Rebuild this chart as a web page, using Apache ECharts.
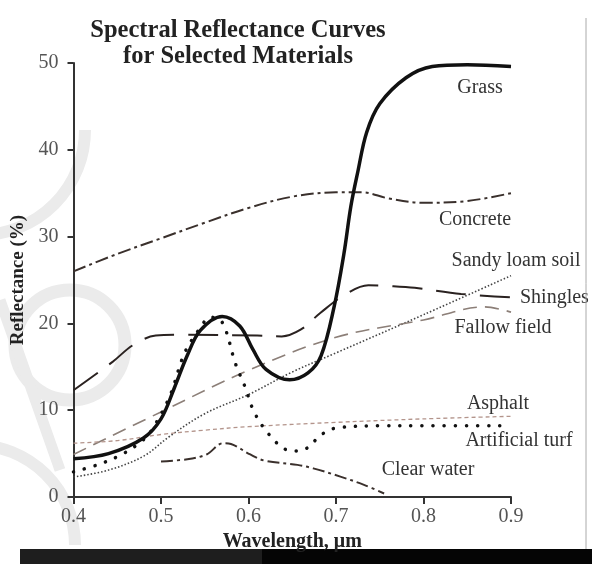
<!DOCTYPE html>
<html>
<head>
<meta charset="utf-8">
<script src="https://cdn.jsdelivr.net/npm/echarts@6/dist/echarts.min.js"></script>
<style>
  html, body { margin: 0; padding: 0; background: #fff; }
  #chart { width: 592px; height: 564px; }
</style>
</head>
<body>
<div id="chart"></div>
<script>
// wavelength (um), reflectance (%) pairs
const grass = [[0.40, 4.4], [0.44, 5.0], [0.48, 6.8], [0.50, 9.0], [0.515, 12.5], [0.53, 16.3],
  [0.545, 19.2], [0.57, 20.8], [0.59, 19.7], [0.605, 17.0], [0.62, 14.7], [0.647, 13.5],
  [0.668, 14.3], [0.683, 16.3], [0.698, 22.0], [0.709, 28.0], [0.717, 33.5], [0.725, 37.5],
  [0.735, 42.0], [0.75, 45.3], [0.78, 48.3], [0.81, 49.6], [0.85, 49.8], [0.90, 49.6]]
const concrete = [[0.40, 26.0], [0.45, 28.0], [0.50, 29.8], [0.55, 31.6], [0.60, 33.3], [0.65, 34.6],
  [0.70, 35.1], [0.73, 35.1], [0.76, 34.4], [0.80, 33.9], [0.85, 34.1], [0.90, 35.0]]
const sandyLoam = [[0.40, 2.3], [0.44, 3.1], [0.48, 4.7], [0.51, 7.0], [0.55, 9.6], [0.60, 11.8],
  [0.65, 14.4], [0.70, 16.6], [0.80, 21.0], [0.90, 25.5]]
const shingles = [[0.40, 12.3], [0.445, 15.6], [0.468, 17.5], [0.494, 18.6], [0.52, 18.7], [0.61, 18.6],
  [0.638, 18.5], [0.66, 19.3], [0.682, 21.2], [0.71, 23.3], [0.737, 24.4], [0.763, 24.3],
  [0.79, 24.1], [0.843, 23.4], [0.90, 23.0]]
const fallowField = [[0.40, 4.9], [0.50, 9.8], [0.60, 14.6], [0.70, 18.4], [0.80, 20.4], [0.87, 21.9], [0.90, 21.3]]
const asphalt = [[0.40, 6.2], [0.45, 6.5], [0.50, 7.2], [0.55, 7.7], [0.60, 8.1], [0.70, 8.6], [0.80, 9.0], [0.90, 9.3]]
const artificialTurf = [[0.40, 2.9], [0.43, 3.8], [0.457, 5.0], [0.48, 6.6], [0.49, 7.8], [0.51, 11.6],
  [0.527, 16.6], [0.545, 19.5], [0.556, 20.7], [0.565, 20.6], [0.573, 19.5], [0.585, 15.4],
  [0.596, 12.7], [0.606, 9.9], [0.621, 7.5], [0.642, 5.5], [0.655, 5.3], [0.668, 5.7],
  [0.679, 6.8], [0.69, 7.6], [0.703, 8.0], [0.75, 8.2], [0.80, 8.2], [0.89, 8.2]]
const clearWater = [[0.50, 4.1], [0.53, 4.35], [0.552, 4.9], [0.571, 6.2], [0.58, 6.1], [0.602, 4.9],
  [0.618, 4.2], [0.656, 3.7], [0.674, 3.3], [0.705, 2.35], [0.732, 1.4], [0.755, 0.4]]

// curve captions and where they sit
const captions = [
  { text: 'Grass', x: 480, y: 88, align: 'center' },
  { text: 'Concrete', x: 475, y: 220, align: 'center' },
  { text: 'Sandy loam soil', x: 516, y: 261, align: 'center' },
  { text: 'Shingles', x: 520, y: 298, align: 'left' },
  { text: 'Fallow field', x: 503, y: 328, align: 'center' },
  { text: 'Asphalt', x: 498, y: 404, align: 'center' },
  { text: 'Artificial turf', x: 519, y: 441, align: 'center' },
  { text: 'Clear water', x: 428, y: 470, align: 'center' }
]

const serif = '"Liberation Serif", "DejaVu Serif", serif'
const web = '#ebebeb'

function line(name, data, color, width, type, z, extra) {
  return Object.assign({
    name: name,
    type: 'line',
    data: data,
    showSymbol: false,
    smooth: 0.35,
    z: z,
    lineStyle: { color: color, width: width, type: type }
  }, extra || {})
}

const chart = echarts.init(document.getElementById('chart'))
chart.setOption({
  animation: false,
  backgroundColor: '#fff',
  title: {
    text: 'Spectral Reflectance Curves\nfor Selected Materials',
    left: 238,
    top: 18,
    padding: 0,
    textAlign: 'center',
    textStyle: {
      fontFamily: serif,
      fontWeight: 'bold',
      fontSize: 24.5,
      lineHeight: 26,
      color: '#222'
    }
  },
  grid: { left: 73.5, right: 81, top: 63, bottom: 67 },
  xAxis: {
    type: 'value',
    min: 0.4,
    max: 0.9,
    interval: 0.1,
    name: 'Wavelength, \u03bcm',
    nameLocation: 'middle',
    nameGap: 33,
    nameTextStyle: { fontFamily: serif, fontWeight: 'bold', fontSize: 20, color: '#222' },
    axisLine: { lineStyle: { color: '#333', width: 2 } },
    axisTick: { length: 7, lineStyle: { color: '#333', width: 2 } },
    axisLabel: {
      margin: 10,
      fontFamily: serif,
      fontSize: 20,
      color: '#555',
      formatter: v => v.toFixed(1)
    },
    splitLine: { show: false }
  },
  yAxis: {
    type: 'value',
    min: 0,
    max: 50,
    interval: 10,
    name: 'Reflectance (%)',
    nameLocation: 'middle',
    nameGap: 46,
    nameTextStyle: { fontFamily: serif, fontWeight: 'bold', fontSize: 19, color: '#222' },
    axisLine: { show: true, lineStyle: { color: '#333', width: 2 } },
    axisTick: { show: true, length: 6, lineStyle: { color: '#333', width: 2 } },
    axisLabel: { margin: 15, fontFamily: serif, fontSize: 20, color: '#555' },
    splitLine: { show: false }
  },
  series: [
    line('Concrete', concrete, '#3a302c', 2, [13, 4, 3, 4], 3),
    line('Sandy loam soil', sandyLoam, '#444', 1.6, [1.5, 2], 3),
    line('Shingles', shingles, '#2a2220', 2, [30, 14], 3),
    line('Fallow field', fallowField, '#8c7f78', 1.6, [14, 8], 3),
    line('Asphalt', asphalt, '#b3948b', 1.3, [4, 3], 3),
    line('Artificial turf', artificialTurf, '#111', 3.5, [0.1, 11], 4,
      { lineStyle: { color: '#111', width: 3.5, type: [0.1, 11], cap: 'round' } }),
    line('Clear water', clearWater, '#3a302c', 2, [12, 4, 3, 4], 3),
    line('Grass', grass, '#111', 3.5, 'solid', 5)
  ],
  graphic: [
    // faint web watermark behind the left of the plot
    { type: 'arc', z: -10, shape: { cx: -20, cy: 130, r: 105, startAngle: 0, endAngle: Math.PI / 2 },
      style: { stroke: web, lineWidth: 12, fill: null } },
    { type: 'circle', z: -10, shape: { cx: 70, cy: 345, r: 55 },
      style: { stroke: web, lineWidth: 13, fill: null } },
    { type: 'arc', z: -10, shape: { cx: -25, cy: 545, r: 100, startAngle: -Math.PI / 2, endAngle: 0 },
      style: { stroke: web, lineWidth: 12, fill: null } },
    { type: 'line', z: -10, shape: { x1: 0, y1: 300, x2: 60, y2: 470 },
      style: { stroke: web, lineWidth: 11 } }
  ].concat(captions.map(c => ({
    type: 'text',
    x: c.x,
    y: c.y,
    style: {
      text: c.text,
      font: '20px ' + serif,
      fill: '#333',
      align: c.align,
      verticalAlign: 'middle'
    }
  }))).concat([
    { type: 'line', shape: { x1: 586, y1: 18, x2: 586, y2: 549 }, style: { stroke: '#aaa', lineWidth: 1 } },
    { type: 'rect', shape: { x: 20, y: 549, width: 242, height: 15 }, style: { fill: '#1e1e1e' } },
    { type: 'rect', shape: { x: 262, y: 549, width: 330, height: 15 }, style: { fill: '#050505' } }
  ])
})
</script>
</body>
</html>
